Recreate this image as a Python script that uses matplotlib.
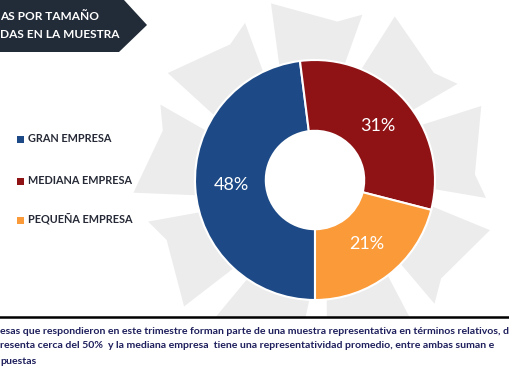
import numpy as np
import matplotlib
matplotlib.use('Agg')
import matplotlib.pyplot as plt
from matplotlib.patches import Polygon, Rectangle

# datos
categorias = ['GRAN EMPRESA', 'MEDIANA EMPRESA', 'PEQUEÑA EMPRESA']
porcentajes = [48, 31, 21]
colores = ['#1d4a86', '#8f1315', '#fb9a38']
titulo = ['AS POR TAMAÑO', 'DAS EN LA MUESTRA']
nota = ['esas que respondieron en este trimestre forman parte de una muestra representativa en términos relativos, d',
        'resenta cerca del 50%  y la mediana empresa  tiene una representatividad promedio, entre ambas suman e',
        'puestas']

plt.rcParams['font.family'] = ['Lato', 'DejaVu Sans']

W, H = 510, 382
fig = plt.figure(figsize=(W / 100, H / 100), dpi=100)

# capa de fondo en pixeles
bg = fig.add_axes([0, 0, 1, 1])
bg.set_xlim(0, W)
bg.set_ylim(H, 0)
bg.axis('off')

# marca de agua (flechas grises)
cx, cy = 315, 180
for k in range(9):
    a0 = np.deg2rad(k * 40 + 12)
    pts = [(112, 0), (182, 4), (160, 26), (172, 34), (112, 32)]
    poly = []
    for r, d in pts:
        a = a0 + np.deg2rad(d)
        poly.append((cx + r * np.cos(a), cy + r * np.sin(a)))
    p = Polygon(poly, closed=True, facecolor='#ececec', edgecolor='none', zorder=1)
    bg.add_patch(p)
bg.add_patch(Rectangle((0, 317), W, H - 317, facecolor='white', edgecolor='none', zorder=2))

# banner del titulo
bg.add_patch(Polygon([(0, 0), (124, 0), (147, 25), (119, 52), (0, 52)], closed=True,
                     facecolor='#222b38', edgecolor='none', zorder=3))
bg.text(0, 16, titulo[0], color='white', fontsize=8.6, fontweight='bold', va='center', ha='left', zorder=4)
bg.text(0, 34, titulo[1], color='white', fontsize=8.6, fontweight='bold', va='center', ha='left', zorder=4)

# leyenda
ys = [139, 181, 220]
for cat, col, y in zip(categorias, colores, ys):
    bg.add_patch(Rectangle((17, y - 3.5), 7, 7, facecolor=col, edgecolor='none', zorder=3))
    bg.text(28, y, cat, color='#262a36', fontsize=7.8, fontweight='bold', va='center', ha='left', zorder=4)

# linea inferior y nota
bg.plot([0, W], [317, 317], color='black', lw=1.8, zorder=3)
for i, linea in enumerate(nota):
    bg.text(0, 331 + 15 * i, linea, color='#1e1f5c', fontsize=7.55, fontweight='bold',
            va='center', ha='left', zorder=4)

# dona
R = 120
ax = fig.add_axes([(cx - R) / W, (H - cy - R) / H, 2 * R / W, 2 * R / H])
ax.set_zorder(5)
ax.patch.set_alpha(0)
wedges, _ = ax.pie(porcentajes, colors=colores, startangle=-90, counterclock=False,
                   radius=1.0, wedgeprops=dict(width=0.59, edgecolor='white', linewidth=1.5))
ax.set_xlim(-1, 1)
ax.set_ylim(-1, 1)
ax.set_aspect('auto')
for w, v in zip(wedges, porcentajes):
    mid = np.deg2rad((w.theta1 + w.theta2) / 2)
    ax.text(0.70 * np.cos(mid), 0.68 * np.sin(mid), '%d%%' % v, color='white',
            fontsize=13, ha='center', va='center')

fig.savefig('out.png', dpi=100)
